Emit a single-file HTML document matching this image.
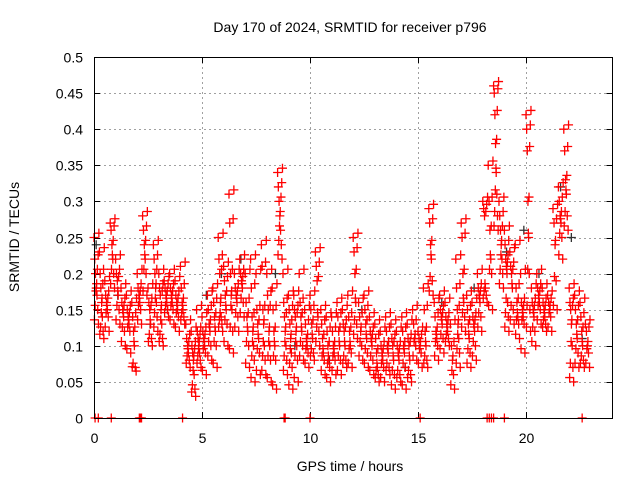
<!DOCTYPE html>
<html><head><meta charset="utf-8"><style>
body{margin:0;background:#fff}
svg{display:block;font-family:"Liberation Sans",sans-serif}
</style></head><body>
<svg id="chart" width="640" height="480" viewBox="0 0 640 480">
<text x="350" y="32" font-size="14" text-anchor="middle">Day 170 of 2024, SRMTID for receiver p796</text>
<text transform="translate(19,237) rotate(-90)" font-size="14" text-anchor="middle">SRMTID / TECUs</text>
<text x="350" y="471" font-size="14" text-anchor="middle">GPS time / hours</text>
<g id="grid"></g>
<g id="ticks"></g>
<g id="marks"></g>
<rect x="94.5" y="57.5" width="518" height="361" fill="none" stroke="#000" stroke-width="1"/>
</svg>
<script>
const xTicks=[0,5,10,15,20];
const yTicks=[0,0.05,0.1,0.15,0.2,0.25,0.3,0.35,0.4,0.45,0.5];
const yTickLabels=["0","0.05","0.1","0.15","0.2","0.25","0.3","0.35","0.4","0.45","0.5"];
const hours=[0,0.25,0.5,0.75,1,1.25,1.5,1.75,2,2.25,2.5,2.75,3,3.25,3.5,3.75,4,4.25,4.5,4.75,5,5.25,5.5,5.75,6,6.25,6.5,6.75,7,7.25,7.5,7.75,8,8.25,8.5,8.75,9,9.25,9.5,9.75,10,10.25,10.5,10.75,11,11.25,11.5,11.75,12,12.25,12.5,12.75,13,13.25,13.5,13.75,14,14.25,14.5,14.75,15,15.25,15.5,15.75,16,16.25,16.5,16.75,17,17.25,17.5,17.75,18,18.25,18.5,18.75,19,19.25,19.5,19.75,20,20.25,20.5,20.75,21,21.25,21.5,21.75,22,22.25,22.5,22.75];
const tecGroups=[
[0.25,0.22,0.2,0.18,0.17,0.15,0.13],[0.23,0.2,0.18,0.16,0.14,0.12,0.11],[0.19,0.17,0.16,0.15,0.14,0.12],[0.27,0.26,0.24,0.22,0.2,0.18],
[0.22,0.2,0.19,0.17,0.15,0.13],[0.18,0.16,0.15,0.14,0.12,0.1],[0.17,0.15,0.14,0.13,0.12,0.09],[0.16,0.14,0.12,0.1,0.07,0.065],
[0.2,0.18,0.17,0.16,0.15,0.13],[0.28,0.26,0.24,0.22,0.2,0.17],[0.18,0.16,0.15,0.13,0.11,0.1],[0.24,0.22,0.2,0.18,0.16,0.14,0.12],
[0.2,0.18,0.17,0.15,0.13,0.11,0.1],[0.19,0.18,0.17,0.16,0.15,0.14],[0.2,0.18,0.17,0.16,0.15,0.13],[0.19,0.17,0.16,0.15,0.14,0.12],
[0.21,0.18,0.16,0.15,0.14,0.13],[0.13,0.11,0.1,0.09,0.08,0.07],[0.12,0.1,0.09,0.08,0.06,0.04,0.03],[0.15,0.12,0.11,0.1,0.09,0.08,0.07],
[0.14,0.12,0.11,0.1,0.09,0.06],[0.17,0.15,0.13,0.12,0.1,0.08],[0.18,0.16,0.14,0.12,0.1,0.07],[0.25,0.22,0.2,0.16,0.14,0.13,0.12],
[0.21,0.19,0.17,0.15,0.13,0.1],[0.31,0.27,0.2,0.17,0.15,0.12,0.09],[0.2,0.18,0.17,0.16,0.14,0.12],[0.22,0.2,0.19,0.18,0.16,0.14],
[0.2,0.16,0.14,0.12,0.1,0.07],[0.22,0.18,0.14,0.12,0.1,0.08,0.05],[0.2,0.15,0.13,0.11,0.09,0.06],[0.24,0.21,0.15,0.13,0.1,0.08,0.06],
[0.2,0.17,0.15,0.12,0.1,0.08,0.05],[0.18,0.15,0.12,0.1,0.08,0.04],[0.34,0.32,0.3,0.28,0.26,0.24,0.22],[0.2,0.16,0.14,0.12,0.1,0.08,0.06],
[0.17,0.15,0.13,0.11,0.09,0.07,0.04],[0.17,0.15,0.14,0.12,0.1,0.08,0.05],[0.2,0.16,0.14,0.12,0.1,0.08],[0.15,0.13,0.11,0.1,0.09,0.07],
[0.17,0.15,0.13,0.11,0.09,0.08],[0.23,0.21,0.19,0.14,0.12,0.1],[0.15,0.13,0.11,0.09,0.08,0.06],[0.14,0.12,0.1,0.08,0.07,0.05],
[0.14,0.12,0.1,0.09,0.08,0.06],[0.16,0.14,0.12,0.1,0.08,0.06],[0.15,0.13,0.12,0.1,0.08,0.07],[0.17,0.14,0.12,0.1,0.09,0.07],
[0.25,0.23,0.2,0.16,0.13,0.11],[0.16,0.14,0.12,0.1,0.08],[0.17,0.15,0.13,0.11,0.09,0.07],[0.14,0.12,0.11,0.1,0.08,0.06],
[0.13,0.11,0.09,0.07,0.06,0.05],[0.12,0.1,0.09,0.08,0.07,0.05],[0.14,0.12,0.1,0.09,0.07,0.06],[0.13,0.11,0.1,0.08,0.06,0.04],
[0.12,0.1,0.09,0.08,0.06,0.05],[0.14,0.12,0.1,0.09,0.07,0.04],[0.13,0.11,0.1,0.08,0.06,0.05],[0.15,0.13,0.11,0.1,0.08],
[0.12,0.11,0.1,0.09,0.07],[0.18,0.15,0.12,0.1,0.08,0.07],[0.29,0.27,0.24,0.22,0.19,0.17],[0.16,0.14,0.12,0.11,0.1,0.08],
[0.17,0.15,0.14,0.13,0.11,0.09],[0.16,0.14,0.13,0.12,0.11,0.1],[0.13,0.1,0.08,0.06,0.04],[0.22,0.18,0.15,0.13,0.11,0.09,0.07],
[0.27,0.25,0.2,0.16,0.14,0.12],[0.17,0.15,0.13,0.11,0.09,0.07],[0.16,0.14,0.13,0.12,0.1,0.08],[0.2,0.18,0.17,0.16,0.14,0.12],
[0.3,0.29,0.28,0.18,0.17,0.16],[0.35,0.3,0.26,0.22,0.2,0.15],[0.46,0.45,0.42,0.38,0.34,0.31,0.28,0.26],[0.3,0.28,0.26,0.24,0.22,0.2,0.18],
[0.26,0.24,0.22,0.21,0.2,0.16,0.14,0.12],[0.23,0.21,0.2,0.18,0.15,0.13],[0.24,0.18,0.16,0.14,0.13,0.11],[0.2,0.16,0.15,0.14,0.13,0.09],
[0.42,0.4,0.37,0.3,0.25,0.2,0.15,0.12],[0.18,0.16,0.15,0.14,0.12,0.1],[0.2,0.18,0.17,0.16,0.15,0.13],[0.18,0.16,0.15,0.14,0.13,0.12],
[0.17,0.16,0.15,0.14,0.12],[0.29,0.27,0.24,0.19,0.15],[0.32,0.3,0.28,0.27,0.25,0.22],[0.4,0.37,0.33,0.31,0.28,0.26],
[0.18,0.16,0.15,0.13,0.1,0.07,0.05],[0.17,0.15,0.13,0.11,0.09,0.07],[0.16,0.14,0.12,0.1,0.08,0.07],[0.13,0.12,0.1,0.09,0.07]
];
const blackHours=[0.1,1.1,2.6,3.4,5.2,5.9,6.8,8.4,9.3,10.9,12.4,13.6,14.4,16.1,17.6,19.1,19.9,20.6,21.6,22.1,22.6];
const blackTec=[0.24,0.17,0.13,0.15,0.17,0.2,0.22,0.2,0.1,0.08,0.15,0.1,0.07,0.16,0.18,0.23,0.26,0.2,0.32,0.25,0.11];
const zeroHours=[0.05,0.2,0.8,2.1,2.15,2.2,4.1,8.8,8.85,10,15.1,18.2,18.3,18.4,18.5,19,22.6];

const X0=94,X1=612.4,Y0=418,Y1=57;
const xs=h=>X0+h/24*(X1-X0);
const ys=v=>Y0-v/0.5*(Y0-Y1);
const NS="http://www.w3.org/2000/svg";
function mk(tag,attrs,parent){const e=document.createElementNS(NS,tag);for(const k in attrs)e.setAttribute(k,attrs[k]);parent.appendChild(e);return e;}
const grid=document.getElementById('grid'),ticks=document.getElementById('ticks'),marks=document.getElementById('marks');
xTicks.forEach((t,i)=>{const x=Math.round(xs(t))+0.5;
 if(t>0){const g=mk('line',{x1:x,x2:x,y1:Y1,y2:Y0,stroke:'#a0a0a0','stroke-dasharray':'2,3'},grid);
 
 }
 mk('line',{x1:x,x2:x,y1:Y0,y2:Y0-6,stroke:'#000'},ticks);
 mk('line',{x1:x,x2:x,y1:Y1,y2:Y1+6,stroke:'#000'},ticks);
 const tx=mk('text',{x:x,y:443,'font-size':14,'text-anchor':'middle'},ticks);tx.textContent=t;
 
 
});
yTicks.forEach((t,i)=>{const y=Math.round(ys(t))+0.5;
 if(t>0&&t<0.5){const g=mk('line',{x1:X0,x2:X1,y1:y,y2:y,stroke:'#a0a0a0','stroke-dasharray':'2,3'},grid);
 
 }
 mk('line',{x1:X0,x2:X0+6,y1:y,y2:y,stroke:'#000'},ticks);
 mk('line',{x1:X1,x2:X1-6,y1:y,y2:y,stroke:'#000'},ticks);
 const tx=mk('text',{x:83,y:y+5,'font-size':14,'text-anchor':'end'},ticks);tx.textContent=yTickLabels[i];
 
 
});
function plus(h,v,color){const x=xs(h),y=ys(v);
 const p=mk('path',{d:`M${x-4.5},${y}H${x+4.5}M${x},${y-4.5}V${y+4.5}`,stroke:color,'stroke-width':1.3,fill:'none'},marks);
 
 
}
blackHours.forEach((h,i)=>plus(h,blackTec[i],'#333'));
hours.forEach((h,i)=>{const g=tecGroups[i];g.forEach((v,k)=>{
 plus(h+(k/g.length)*0.24,v,'#ff0000');
 plus(h+((g.length-1-k)/g.length)*0.24+0.02,v+0.006,'#ff0000');
});});
zeroHours.forEach(h=>plus(h,0,'#ff0000'));
</script>
</body></html>
